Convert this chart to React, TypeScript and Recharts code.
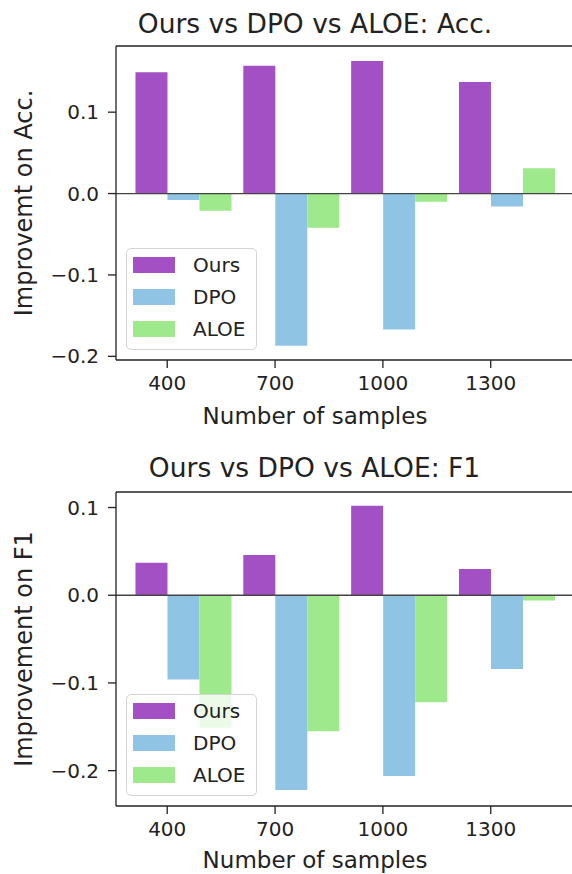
import React from 'react';
import { BarChart, Bar, XAxis, YAxis, ReferenceLine, Legend } from 'recharts';

// ---- data ----
const categories = ['400', '700', '1000', '1300'];
const seriesNames = ['Ours', 'DPO', 'ALOE'];

const accOurs = [0.149, 0.157, 0.163, 0.137];
const accDPO = [-0.008, -0.187, -0.167, -0.016];
const accALOE = [-0.021, -0.042, -0.010, 0.031];

const f1Ours = [0.037, 0.046, 0.102, 0.030];
const f1DPO = [-0.096, -0.222, -0.206, -0.084];
const f1ALOE = [-0.151, -0.155, -0.122, -0.006];

const yTicks = [-0.2, -0.1, 0, 0.1];
const xTicks = [0, 1, 2, 3];

// ---- style ----
const COLORS = ['#a250c4', '#8fc4e4', '#9ee98b'];
const FONT = "'DejaVu Sans', sans-serif";
const INK = '#222';

const buildRows = (ours: number[], dpo: number[], aloe: number[]) =>
  categories.map((c, i) => ({
    pos: i + 0.15, // group centre: bars are edge-aligned to the tick
    label: c,
    Ours: ours[i],
    DPO: dpo[i],
    ALOE: aloe[i],
  }));

const accRows = buildRows(accOurs, accDPO, accALOE);
const f1Rows = buildRows(f1Ours, f1DPO, f1ALOE);

const fmtY = (v: number) => (v === 0 ? '0.0' : v.toFixed(1).replace('-', '\u2212'));

const LegendBox = (props: any) => {
  const payload = [...(props.payload || [])].sort(
    (a: any, b: any) => seriesNames.indexOf(a.value) - seriesNames.indexOf(b.value)
  );
  return (
    <div
      style={{
        boxSizing: 'border-box',
        width: 131,
        height: 102,
        border: '1px solid #d4d4d4',
        borderRadius: 5,
        background: 'rgba(255,255,255,0.8)',
        fontFamily: FONT,
      }}
    >
      {payload.map((p: any, i: number) => (
        <div key={i} style={{ display: 'flex', alignItems: 'center', height: 32 }}>
          <div style={{ width: 42, height: 15.5, background: p.color, marginLeft: 6, marginRight: 18 }} />
          <span style={{ fontSize: 20, color: INK, lineHeight: '20px' }}>{p.value}</span>
        </div>
      ))}
    </div>
  );
};

function Panel({ rows, domain }: { rows: any[]; domain: [number, number] }) {
  return (
    <BarChart
      width={577}
      height={400}
      data={rows}
      margin={{ top: 46, right: 0, bottom: 10, left: 0 }}
      barGap={0}
      barSize={32}
    >
      <XAxis
        type="number"
        dataKey="pos"
        domain={[-0.475, 3.8]}
        allowDataOverflow
        ticks={xTicks}
        interval={0}
        tickFormatter={(v: number) => categories[v]}
        height={30}
        tickSize={8}
        tickMargin={8}
        tick={{ fill: INK, fontSize: 20, fontFamily: FONT }}
        tickLine={{ stroke: INK, strokeWidth: 1.3 }}
        axisLine={{ stroke: INK, strokeWidth: 1.3 }}
      />
      <YAxis
        type="number"
        domain={domain}
        allowDataOverflow
        ticks={yTicks}
        interval={0}
        tickFormatter={fmtY}
        width={116}
        tickSize={8}
        tickMargin={9}
        tick={{ fill: INK, fontSize: 20, fontFamily: FONT }}
        tickLine={{ stroke: INK, strokeWidth: 1.3 }}
        axisLine={{ stroke: INK, strokeWidth: 1.3 }}
      />
      {seriesNames.map((name, i) => (
        <Bar key={name} dataKey={name} name={name} fill={COLORS[i]} barSize={32} isAnimationActive={false} />
      ))}
      <ReferenceLine y={0} stroke="#444" strokeWidth={1.3} ifOverflow="visible" />
      <ReferenceLine y={domain[1]} stroke={INK} strokeWidth={1.3} ifOverflow="visible" />
      <Legend
        layout="vertical"
        align="center"
        verticalAlign="middle"
        itemSorter={null as any}
        content={LegendBox}
        wrapperStyle={{ left: 126, top: 248, width: 131, height: 102 }}
      />
    </BarChart>
  );
}

export default function App() {
  return (
    <div
      style={{
        position: 'absolute',
        left: 0,
        top: 0,
        width: 572,
        height: 874,
        overflow: 'hidden',
        background: '#fff',
        fontFamily: FONT,
      }}
    >
      <div style={{ position: 'absolute', left: 0, top: 0 }}>
        <Panel rows={accRows} domain={[-0.2045, 0.1813]} />
      </div>
      <div style={{ position: 'absolute', left: 0, top: 446 }}>
        <Panel rows={f1Rows} domain={[-0.2403, 0.1177]} />
      </div>
      <svg
        width={572}
        height={874}
        style={{ position: 'absolute', left: 0, top: 0, pointerEvents: 'none' }}
      >
        <g fill={INK} fontFamily={FONT}>
          <text x={315} y={33.3} fontSize={26.5} textAnchor="middle">Ours vs DPO vs ALOE: Acc.</text>
          <text x={315} y={424} fontSize={23} textAnchor="middle">Number of samples</text>
          <text x={32} y={203} fontSize={24} textAnchor="middle" transform="rotate(-90 32 203)">Improvemt on Acc.</text>
          <text x={314.5} y={476.7} fontSize={26.5} textAnchor="middle">Ours vs DPO vs ALOE: F1</text>
          <text x={315} y={868.3} fontSize={23} textAnchor="middle">Number of samples</text>
          <text x={32} y={649} fontSize={24} textAnchor="middle" transform="rotate(-90 32 649)">Improvement on F1</text>
        </g>
      </svg>
    </div>
  );
}
